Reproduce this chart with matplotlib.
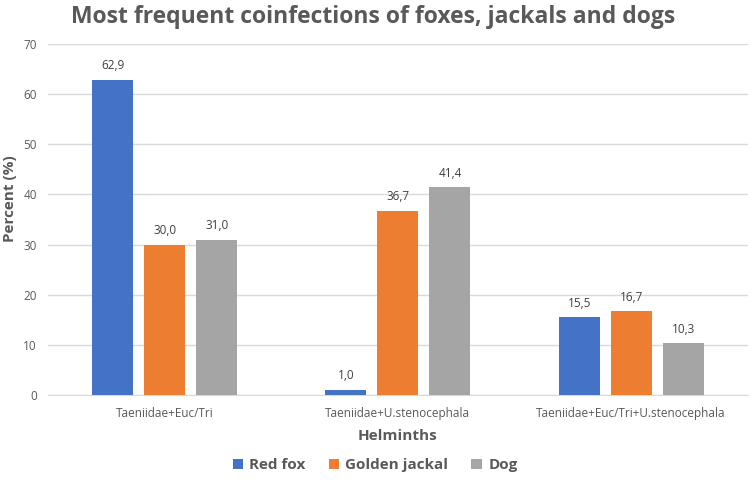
import matplotlib
matplotlib.use("Agg")
import matplotlib.pyplot as plt
import numpy as np

categories = ["Taeniidae+Euc/Tri", "Taeniidae+U.stenocephala", "Taeniidae+Euc/Tri+U.stenocephala"]
series_names = ["Red fox", "Golden jackal", "Dog"]
red_fox = [62.9, 1.0, 15.5]
golden_jackal = [30.0, 36.7, 16.7]
dog = [31.0, 41.4, 10.3]
colors = ["#4472C4", "#ED7D31", "#A5A5A5"]

plt.rcParams["font.family"] = ["Open Sans", "DejaVu Sans"]
txt = "#595959"

fig = plt.figure(figsize=(7.5, 4.9), dpi=100)
ax = fig.add_axes([0.064, 0.194, 0.933, 0.716])

x = np.arange(len(categories))
width = 0.176
step = 0.223
for i, (name, vals) in enumerate(zip(series_names, [red_fox, golden_jackal, dog])):
    bars = ax.bar(x + (i - 1) * step, vals, width, color=colors[i], label=name, zorder=3)
    for b, v in zip(bars, vals):
        ax.text(b.get_x() + b.get_width() / 2, v + 1.5, f"{v:.1f}".replace(".", ","),
                ha="center", va="bottom", fontsize=8.5, color="#404040")

ax.set_xlim(-0.5, 2.5)
ax.set_ylim(0, 70)
ax.set_yticks(range(0, 71, 10))
ax.set_xticks(x)
ax.set_xticklabels(categories)
ax.tick_params(axis="both", length=0, labelsize=8.5, labelcolor=txt)
ax.tick_params(axis="x", pad=9)
ax.tick_params(axis="y", pad=8)
ax.grid(axis="y", color="#D9D9D9", linewidth=1, zorder=0)
for s in ["top", "right", "left"]:
    ax.spines[s].set_visible(False)
ax.spines["bottom"].set_color("#D9D9D9")

ax.set_xlabel("Helminths", fontsize=11, fontweight="bold", color=txt, labelpad=6)
ax.set_ylabel("Percent (%)", fontsize=11, fontweight="bold", color=txt)
ax.yaxis.set_label_coords(-0.044, 0.56)
fig.suptitle("Most frequent coinfections of foxes, jackals and dogs", x=0.497, y=0.99,
             fontsize=16.5, fontweight="bold", color=txt)

fig.legend(loc="lower center", bbox_to_anchor=(0.5, 0.008), ncol=3, frameon=False,
           prop={"size": 11, "weight": "bold"}, labelcolor=txt,
           handlelength=0.7, handleheight=0.7, handletextpad=0.4, columnspacing=1.5)

fig.savefig("out.png", dpi=100)
